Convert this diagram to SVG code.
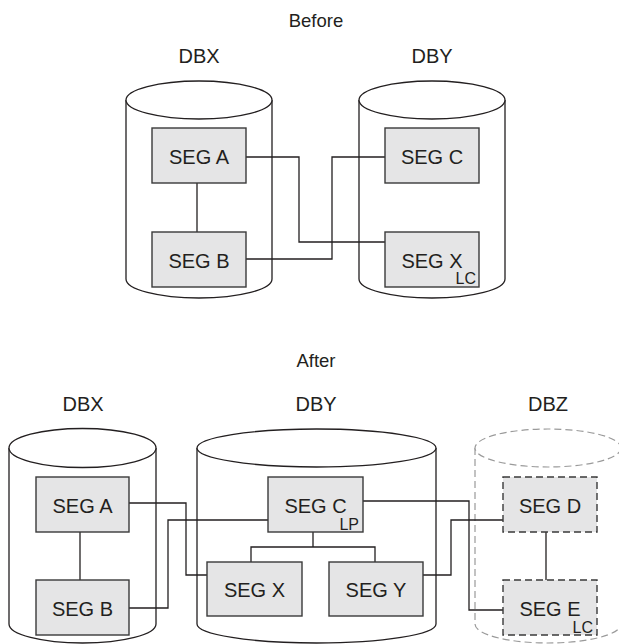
<svg xmlns="http://www.w3.org/2000/svg" width="619" height="644" viewBox="0 0 619 644">
<style>
text{font-family:"Liberation Sans",Arial,sans-serif;fill:#231f20}
.t{font-size:20px;text-anchor:middle}
.h{font-size:18.5px;text-anchor:middle}
.s{font-size:16px;text-anchor:end}
.cyl{fill:#fff;stroke:#231f20;stroke-width:1.3}
.cylz{fill:#fff;stroke:#9a9a9a;stroke-width:1.2;stroke-dasharray:7 4}
.box{fill:#e5e5e6;stroke:#3a3a3a;stroke-width:1.4}
.boxd{fill:#e5e5e6;stroke:#3a3a3a;stroke-width:1.4;stroke-dasharray:7 4}
.c{fill:none;stroke:#231f20;stroke-width:1.3}
</style>
<rect width="619" height="644" fill="#fff"/>
<text class="h" x="316" y="27">Before</text>
<text class="h" x="316" y="367">After</text>

<!-- Before -->
<g id="before-dbx">
<text class="t" x="199" y="63">DBX</text>
<path class="cyl" d="M126,100 V279 A73,19 0 0 0 272,279 V100"/>
<ellipse class="cyl" cx="199" cy="100" rx="73" ry="19"/>
</g>
<g id="before-dby">
<text class="t" x="432" y="63">DBY</text>
<path class="cyl" d="M359,100 V279 A73,19 0 0 0 505,279 V100"/>
<ellipse class="cyl" cx="432" cy="100" rx="73" ry="19"/>
</g>
<g id="connectors-before">
<path class="c" d="M197,183 V232"/>
<path class="c" d="M246,157 H299 V242 H385"/>
<path class="c" d="M246,259 H332 V157 H385"/>
</g>
<g id="before-seg-a"><rect class="box" x="152" y="128" width="94" height="55"/><text class="t" x="199" y="164">SEG A</text></g>
<g id="before-seg-b"><rect class="box" x="152" y="232" width="94" height="55"/><text class="t" x="199" y="268">SEG B</text></g>
<g id="before-seg-c"><rect class="box" x="385" y="128" width="94" height="55"/><text class="t" x="432" y="164">SEG C</text></g>
<g id="before-seg-x"><rect class="box" x="385" y="232" width="94" height="55"/><text class="t" x="432" y="268">SEG X</text><text class="s" x="476" y="284">LC</text></g>

<!-- After -->
<g id="after-dbx">
<text class="t" x="83" y="411">DBX</text>
<path class="cyl" d="M9,448 V624 A73.5,19 0 0 0 156,624 V448"/>
<ellipse class="cyl" cx="82.5" cy="448" rx="73.5" ry="19.5"/>
</g>
<g id="after-dby">
<text class="t" x="316" y="411">DBY</text>
<path class="cyl" d="M197,448 V624 A119.5,19 0 0 0 436,624 V448"/>
<ellipse class="cyl" cx="316.5" cy="448" rx="119.5" ry="19"/>
</g>
<g id="after-dbz">
<text class="t" x="548" y="411">DBZ</text>
<path class="cylz" d="M475,448 V624 A73,19 0 0 0 621,624 V448"/>
<ellipse class="cylz" cx="548" cy="448" rx="73" ry="19"/>
</g>
<g id="connectors-after">
<path class="c" d="M80,532 V580"/>
<path class="c" d="M129,503 H186 V575 H207"/>
<path class="c" d="M129,608 H168 V520 H268"/>
<path class="c" d="M313,532 V547 M251,562 V547 H375 V562"/>
<path class="c" d="M363,501 H469 V610 H503"/>
<path class="c" d="M423,575 H451 V520 H503"/>
<path class="c" d="M546,532 V580"/>
</g>
<g id="after-seg-a"><rect class="box" x="36" y="477" width="93" height="55"/><text class="t" x="82.5" y="513">SEG A</text></g>
<g id="after-seg-b"><rect class="box" x="36" y="580" width="93" height="55"/><text class="t" x="82.5" y="616">SEG B</text></g>
<g id="after-seg-c"><rect class="box" x="268" y="477" width="95" height="55"/><text class="t" x="315.5" y="513">SEG C</text><text class="s" x="359" y="530">LP</text></g>
<g id="after-seg-x"><rect class="box" x="207" y="562" width="95" height="54"/><text class="t" x="254.5" y="597">SEG X</text></g>
<g id="after-seg-y"><rect class="box" x="329" y="562" width="94" height="54"/><text class="t" x="376" y="597">SEG Y</text></g>
<g id="after-seg-d"><rect class="boxd" x="503" y="477" width="94" height="55"/><text class="t" x="550" y="513">SEG D</text></g>
<g id="after-seg-e"><rect class="boxd" x="503" y="580" width="94" height="55"/><text class="t" x="550" y="616">SEG E</text><text class="s" x="593" y="633">LC</text></g>
</svg>
